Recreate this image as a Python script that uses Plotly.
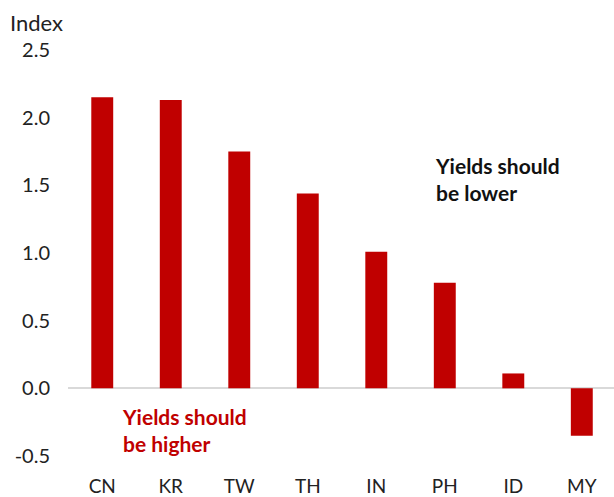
import plotly.graph_objects as go

# Market codes and index values
markets = ["CN", "KR", "TW", "TH", "IN", "PH", "ID", "MY"]
index_values = [2.15, 2.13, 1.75, 1.44, 1.01, 0.78, 0.11, -0.35]
y_ticks = [-0.5, 0.0, 0.5, 1.0, 1.5, 2.0, 2.5]
y_tick_labels = ["-0.5", "0.0", "0.5", "1.0", "1.5", "2.0", "2.5"]

BAR_RED = "#C00000"
FONT = "Lato, 'Open Sans', sans-serif"

fig = go.Figure(
    go.Bar(
        x=markets,
        y=index_values,
        marker=dict(color=BAR_RED, line=dict(width=0)),
        width=0.32,
    )
)

fig.update_layout(
    width=614,
    height=497,
    margin=dict(l=68, r=0, t=50, b=41),
    paper_bgcolor="white",
    plot_bgcolor="white",
    showlegend=False,
    font=dict(family=FONT, size=19, color="#222222"),
    xaxis=dict(
        type="category",
        range=[-0.5, 7.47],
        showgrid=False,
        showline=False,
        ticks="",
        ticklabelstandoff=17,
        tickfont=dict(size=19, color="#222222"),
    ),
    yaxis=dict(
        range=[-0.5, 2.5],
        tickvals=y_ticks,
        ticktext=y_tick_labels,
        showgrid=False,
        showline=False,
        ticks="",
        ticklabelstandoff=17,
        zeroline=True,
        zerolinecolor="#d9d9d9",
        zerolinewidth=1.5,
        tickfont=dict(size=20, color="#222222"),
    ),
    annotations=[
        dict(
            text="Index",
            xref="paper", yref="paper",
            x=-68 / 546 + 8 / 546, y=1 + 28 / 406,
            xanchor="left", yanchor="middle",
            showarrow=False,
            font=dict(size=22, color="#222222"),
        ),
        dict(
            text="<b>Yields should<br>be lower</b>",
            xref="x", yref="y",
            x=4.83, y=1.55,
            xanchor="left", yanchor="middle", align="left",
            showarrow=False,
            font=dict(size=21, color="#111111"),
        ),
        dict(
            text="<b>Yields should<br>be higher</b>",
            xref="x", yref="y",
            x=0.26, y=-0.31,
            xanchor="left", yanchor="middle", align="left",
            showarrow=False,
            font=dict(size=21, color=BAR_RED),
        ),
    ],
)

fig.write_html("out.html")
